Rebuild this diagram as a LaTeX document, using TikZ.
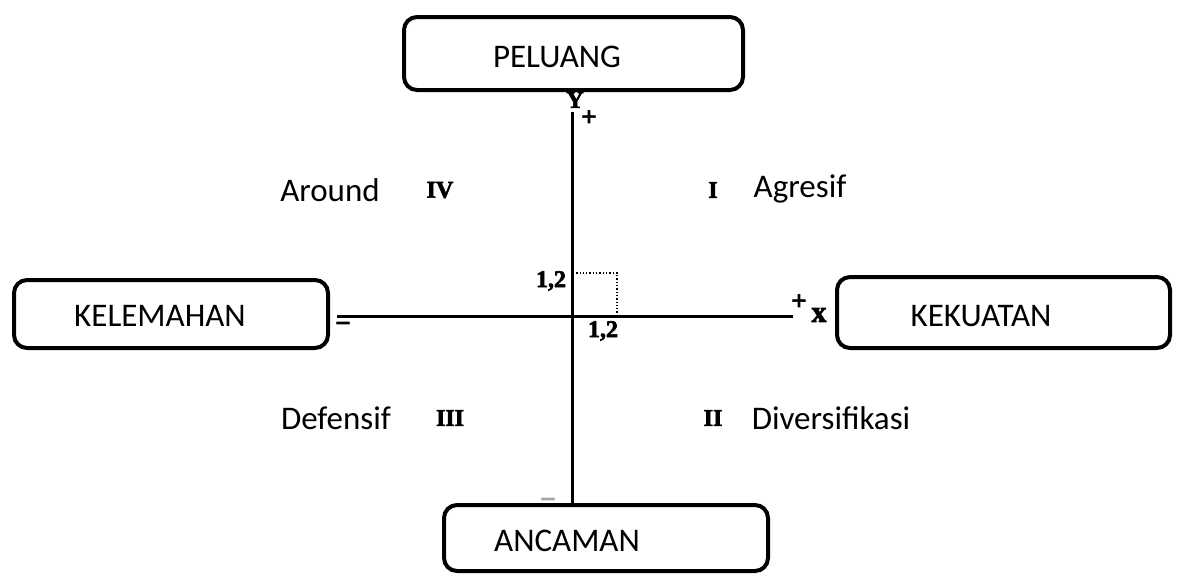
\documentclass[tikz,border=0pt]{standalone}
\usepackage{fontspec}
\setmainfont{Carlito}
\newfontfamily\serifbold{Liberation Serif Bold}[FakeBold=2.5]
\begin{document}
\begin{tikzpicture}[x=1pt,y=-1pt,
  box/.style={draw, line width=4pt, rounded corners=13pt, fill=white, inner sep=0pt},
  word/.style={font=\fontsize{33}{36}\selectfont, inner sep=0pt},
  axis/.style={line width=3pt},
  tag/.style={font=\serifbold\fontsize{24}{26}\selectfont, inner sep=0pt},
  sign/.style={font=\serifbold\fontsize{27}{29}\selectfont, inner sep=0pt}]
\useasboundingbox (0,0) rectangle (1180,576);

% faint minus at the lower end of the Y axis, partly covered by the box
\node[sign, text=black!35] (yminus) at (548,503) {\textminus};

% the four boxes
\node[box, minimum width=339pt, minimum height=73pt] (peluang) at (573.5,53.5) {};
\node[box, minimum width=324pt, minimum height=66pt] (ancaman) at (606,538) {};
\node[box, minimum width=314pt, minimum height=68pt] (kelemahan) at (171,314) {};
\node[box, minimum width=333pt, minimum height=71pt] (kekuatan) at (1003.5,312.5) {};

\node[word] (peluang-t) at (557,57) {PELUANG};
\node[word] (ancaman-t) at (567,541) {ANCAMAN};
\node[word] (kelemahan-t) at (160,316) {KELEMAHAN};
\node[word] (kekuatan-t) at (981,316) {KEKUATAN};

% axes
\coordinate (ytop) at (572,112);
\coordinate (xleft) at (337,316);
\coordinate (xright) at (793,316);
\draw[axis] (ytop) -- (ytop |- ancaman.north);
\draw[axis] (xleft) -- (xright);

% point (1,2 ; 1,2)
\coordinate (origin) at (573,316);
\coordinate (pt) at (617,273);
\draw[dotted, line width=1.3pt] (origin) rectangle (pt);
\node[tag] (ylab) at (551,281) {1,2};
\node[tag] (xlab) at (603,331) {1,2};

% axis names and signs
\node[tag] (yname) at (575,100) {Y};
\node[sign] (yplus) at (589,118) {+};
\node[sign] (xplus) at (799,302) {+};
\node[tag, font=\serifbold\fontsize{30}{32}\selectfont] (xname) at (819,315) {x};
\node[sign] (xminus) at (343,327) {\textminus};

% quadrants
\node[tag] (q4) at (440,190) {IV};
\node[tag] (q1) at (713,190) {I};
\node[tag] (q3) at (450,418) {III};
\node[tag] (q2) at (713,418) {II};

\node[word] (around) at (330,190) {Around};
\node[word] (agresif) at (800,189) {Agresif};
\node[word] (defensif) at (336,418) {Defensif};
\node[word] (diversifikasi) at (831,418) {Diversifikasi};
\end{tikzpicture}
\end{document}
